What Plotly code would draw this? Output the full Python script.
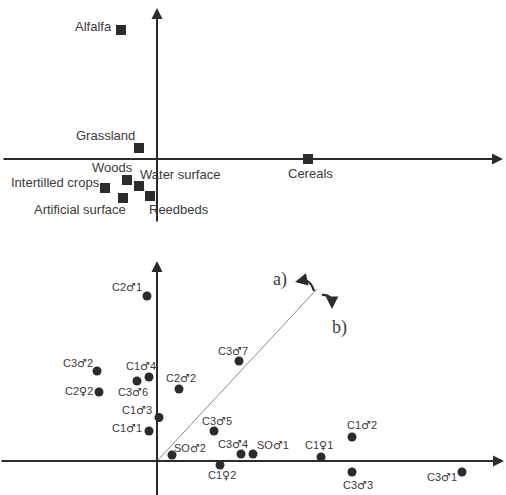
import plotly.graph_objects as go

# ---------------- data ----------------
# Top panel: land-use categories
land_names = ["Alfalfa", "Grassland", "Cereals", "Woods", "Water surface",
              "Intertilled crops", "Artificial surface", "Reedbeds"]
land_x = [-0.36, -0.18, 1.51, -0.30, -0.18, -0.52, -0.34, -0.07]
land_y = [1.29, 0.11, 0.00, -0.21, -0.27, -0.29, -0.39, -0.37]

# Bottom panel: individuals
ind_names = ["C2♂1", "C3♂2", "C2♀2", "C1♂4", "C3♂6", "C2♂2", "C1♂3", "C1♂1",
             "SO♂2", "C1♀2", "C3♂7", "C3♂5", "C3♂4", "SO♂1", "C1♀1", "C1♂2",
             "C3♂3", "C3♂1"]
ind_x = [-0.10, -0.60, -0.58, -0.08, -0.20, 0.22, 0.02, -0.08,
         0.15, 0.63, 0.82, 0.57, 0.84, 0.96, 1.64, 1.95, 1.95, 3.05]
ind_y = [1.65, 0.90, 0.69, 0.84, 0.80, 0.72, 0.435, 0.30,
         0.06, -0.04, 1.00, 0.30, 0.07, 0.07, 0.04, 0.24, -0.11, -0.11]

# Rotation line end point (bottom panel)
rot_end = (1.60, 1.72)

# ---------------- styling / label placement (pixels) ----------------
land_offsets = [(-28, 3.5), (-33.5, 13), (2.5, -14), (-14.5, 13), (41, 12),
                (-50, 5.5), (-43.5, -11), (28.5, -13)]
ind_offsets = [(-20, 9), (-19, 8), (-20.5, 0.5), (-8.5, 10.5), (-4, -11),
               (2, 11), (-22, 7.5), (-22, 2.5), (18, 7), (2, -10), (-6, 10),
               (3, 10), (-8.5, 10), (19.5, 9), (-2, 12), (10, 12), (6, -13.5),
               (-20, -5)]

W, H = 506, 495
INK = "#2b2b2b"
TXT = "#3a3a3a"
SANS = "Liberation Sans, Arial, DejaVu Sans, sans-serif"
SERIF = "Liberation Serif, Times New Roman, serif"


def sym_label(s):
    for g in ("♂", "♀"):
        s = s.replace(g, "<span style=\"font-family:'DejaVu Sans';font-size:11px\">%s</span>" % g)
    return s


fig = go.Figure()

fig.add_trace(go.Scatter(
    x=land_x, y=land_y, mode="markers", xaxis="x", yaxis="y",
    marker=dict(symbol="square", size=10, color=INK, line=dict(width=0)),
    hoverinfo="text", text=land_names, showlegend=False))

fig.add_trace(go.Scatter(
    x=ind_x, y=ind_y, mode="markers", xaxis="x2", yaxis="y2",
    marker=dict(symbol="circle", size=9, color=INK, line=dict(width=0)),
    hoverinfo="text", text=ind_names, showlegend=False))

annotations = []
for name, x, y, (dx, dy) in zip(land_names, land_x, land_y, land_offsets):
    annotations.append(dict(x=x, y=y, xref="x", yref="y", text=name,
                            showarrow=False, xshift=dx, yshift=dy,
                            xanchor="center", yanchor="middle",
                            font=dict(family=SANS, size=13, color=TXT)))
for name, x, y, (dx, dy) in zip(ind_names, ind_x, ind_y, ind_offsets):
    annotations.append(dict(x=x, y=y, xref="x2", yref="y2", text=sym_label(name),
                            showarrow=False, xshift=dx, yshift=dy,
                            xanchor="center", yanchor="middle",
                            font=dict(family=SANS, size=11, color=TXT)))


def arrow(xr, yr, tail, head, width=2, size=1.1):
    return dict(x=head[0], y=head[1], ax=tail[0], ay=tail[1],
                xref=xr, yref=yr, axref=xr, ayref=yr, text="",
                showarrow=True, arrowhead=2, arrowsize=size,
                arrowwidth=width, arrowcolor=INK, standoff=0, startstandoff=0)


# axes with arrows – top panel
annotations.append(arrow("x", "y", (-1.55, 0), (3.46, 0)))
annotations.append(arrow("x", "y", (0, -0.64), (0, 1.51)))
# axes with arrows – bottom panel
annotations.append(arrow("x2", "y2", (-1.57, 0), (3.47, 0)))
annotations.append(arrow("x2", "y2", (0, -0.36), (0, 2.00)))

# curved-arrow heads
annotations.append(arrow("x2", "y2", (1.45, 1.805), (1.38, 1.79), width=2, size=1.25))
annotations.append(arrow("x2", "y2", (1.75, 1.59), (1.75, 1.52), width=2, size=1.25))

annotations.append(dict(x=1.23, y=1.82, xref="x2", yref="y2", text="a)",
                        showarrow=False, font=dict(family=SERIF, size=18, color=TXT)))
annotations.append(dict(x=1.82, y=1.34, xref="x2", yref="y2", text="b)",
                        showarrow=False, font=dict(family=SERIF, size=18, color=TXT)))

shapes = [
    dict(type="line", xref="x2", yref="y2", x0=0, y0=0,
         x1=rot_end[0], y1=rot_end[1], line=dict(color="#8a8a8a", width=1)),
    dict(type="path", xref="x2", yref="y2",
         path="M 1.57,1.70 Q 1.53,1.83 1.44,1.80",
         line=dict(color=INK, width=2.2)),
    dict(type="path", xref="x2", yref="y2",
         path="M 1.65,1.66 Q 1.745,1.665 1.75,1.58",
         line=dict(color=INK, width=2.2)),
]

top_lo = 1 - 230 / H
bot_hi = 1 - 250 / H
ax_common = dict(visible=False, showgrid=False, zeroline=False, fixedrange=True)

fig.update_layout(
    width=W, height=H,
    margin=dict(l=0, r=0, t=0, b=0),
    paper_bgcolor="white", plot_bgcolor="white",
    xaxis=dict(domain=[0, 1], range=[-1.57, 3.49], anchor="y", **ax_common),
    yaxis=dict(domain=[top_lo, 1], range=[-0.71, 1.59], anchor="x", **ax_common),
    xaxis2=dict(domain=[0, 1], range=[-1.57, 3.49], anchor="y2", **ax_common),
    yaxis2=dict(domain=[0, bot_hi], range=[-0.34, 2.11], anchor="x2", **ax_common),
    annotations=annotations,
    shapes=shapes,
    showlegend=False,
)

fig.write_html("out.html")
